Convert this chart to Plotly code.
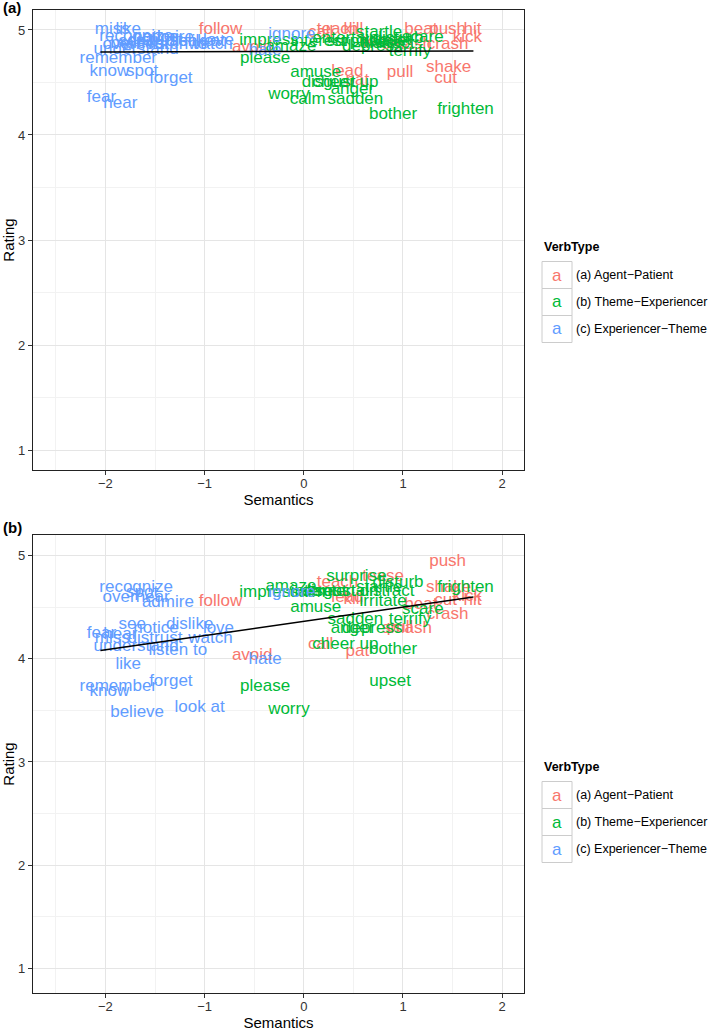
import plotly.graph_objects as go

verb_types = ["(a) Agent\u2212Patient", "(b) Theme\u2212Experiencer", "(c) Experiencer\u2212Theme"]
type_colors = ["#F8766D", "#00BA38", "#619CFF"]

# Agent-Patient verbs
ap_words = ["follow", "avoid", "teach", "kill", "beat", "push", "hit", "kick", "crash",
            "smash", "call", "pat", "tease", "lead", "pull", "shake", "cut"]
ap_sem = [-0.84, -0.52, 0.34, 0.50, 1.18, 1.45, 1.70, 1.65, 1.45,
          1.04, 0.17, 0.54, 0.80, 0.44, 0.97, 1.46, 1.43]
ap_rating_a = [5.00, 4.83, 5.00, 5.00, 5.00, 5.00, 5.00, 4.93, 4.86,
               4.86, 4.97, 4.52, 4.88, 4.60, 4.59, 4.64, 4.54]
ap_rating_b = [4.55, 4.03, 4.74, 4.57, 4.52, 4.94, 4.56, 4.60, 4.43,
               4.29, 4.14, 4.07, 4.80, 4.59, 4.30, 4.69, 4.56]

# Theme-Experiencer verbs
te_words = ["impress", "amaze", "please", "interest", "surprise", "startle", "disturb", "scare",
            "entertain", "distract", "irritate", "depress", "upset", "terrify", "amuse", "worry",
            "calm", "disgust", "cheer up", "anger", "sadden", "bother", "frighten"]
te_sem = [-0.35, -0.13, -0.39, 0.15, 0.53, 0.76, 0.95, 1.20,
          0.42, 0.84, 0.80, 0.69, 0.87, 1.07, 0.12, -0.15,
          0.04, 0.25, 0.42, 0.49, 0.52, 0.90, 1.63]
te_rating_a = [4.90, 4.84, 4.73, 4.89, 4.89, 4.97, 4.92, 4.93,
               4.92, 4.87, 4.89, 4.84, 4.90, 4.79, 4.59, 4.38,
               4.34, 4.50, 4.50, 4.43, 4.34, 4.19, 4.24]
te_rating_b = [4.64, 4.70, 3.73, 4.65, 4.80, 4.69, 4.74, 4.48,
               4.65, 4.65, 4.55, 4.29, 3.78, 4.38, 4.49, 3.51,
               4.64, 4.65, 4.14, 4.29, 4.38, 4.09, 4.69]

# Experiencer-Theme verbs
et_words = ["recognize", "overhear", "spot", "admire", "see", "notice", "dislike", "love",
            "fear", "hear", "distrust", "watch", "understand", "listen to", "like", "hate",
            "forget", "remember", "know", "believe", "look at", "ignore", "miss"]
et_sem = [-1.69, -1.69, -1.63, -1.37, -1.73, -1.49, -1.15, -0.86,
          -2.04, -1.85, -1.50, -0.94, -1.69, -1.27, -1.77, -0.39,
          -1.34, -1.87, -1.96, -1.68, -1.05, -0.12, -1.93]
et_rating_a = [4.94, 4.86, 4.60, 4.93, 4.89, 4.93, 4.89, 4.90,
               4.35, 4.30, 4.90, 4.86, 4.81, 4.86, 5.00, 4.80,
               4.54, 4.73, 4.60, 4.87, 4.89, 4.95, 5.00]
et_rating_b = [4.69, 4.59, 4.64, 4.54, 4.33, 4.29, 4.33, 4.29,
               4.24, 4.23, 4.19, 4.19, 4.12, 4.08, 3.94, 3.99,
               3.78, 3.73, 3.68, 3.48, 3.53, 4.64, 4.19]

# fitted lines
fit_sem = [-2.05, 1.71]
fit_rating_a = [4.79, 4.80]
fit_rating_b = [4.08, 4.60]

W, H = 709, 1034
FONT = "Liberation Sans, Arial, sans-serif"

fig = go.Figure()

groups = [(ap_words, ap_sem, ap_rating_a, ap_rating_b),
          (te_words, te_sem, te_rating_a, te_rating_b),
          (et_words, et_sem, et_rating_a, et_rating_b)]

for panel, (xa, ya) in enumerate([("x", "y"), ("x2", "y2")]):
    for i, (words, sem, ra, rb) in enumerate(groups):
        fig.add_trace(go.Scatter(
            x=sem, y=ra if panel == 0 else rb, text=words, mode="text",
            textposition="middle center",
            textfont=dict(family=FONT, size=17, color=type_colors[i]),
            xaxis=xa, yaxis=ya, showlegend=False, hoverinfo="skip"))
    fig.add_trace(go.Scatter(
        x=fit_sem, y=fit_rating_a if panel == 0 else fit_rating_b, mode="lines",
        line=dict(color="black", width=1.5), xaxis=xa, yaxis=ya,
        showlegend=False, hoverinfo="skip"))


def px(x):
    return x / W


def py(y):
    return 1 - y / H


xax = dict(range=[-2.73, 2.22], tickvals=[-2, -1, 0, 1, 2], showgrid=True,
           gridcolor="#E5E5E5", gridwidth=1, zeroline=False, automargin=False,
           minor=dict(dtick=0.5, showgrid=True, gridcolor="#F2F2F2", gridwidth=1),
           showline=True, mirror=True, linecolor="#222", linewidth=1.2,
           ticks="outside", ticklen=4, tickcolor="#333", ticklabelstandoff=-3,
           tickfont=dict(family=FONT, size=13, color="#333"),
           title=dict(text="Semantics", font=dict(family=FONT, size=15, color="#000"), standoff=1))
yax = dict(tickvals=[1, 2, 3, 4, 5], showgrid=True, gridcolor="#E5E5E5", gridwidth=1,
           zeroline=False, automargin=False,
           minor=dict(dtick=0.5, showgrid=True, gridcolor="#F2F2F2", gridwidth=1),
           showline=True, mirror=True, linecolor="#222", linewidth=1.2,
           ticks="outside", ticklen=4, tickcolor="#333",
           tickfont=dict(family=FONT, size=13, color="#333"),
           title=dict(text="Rating", font=dict(family=FONT, size=15, color="#000"), standoff=6))

fig.update_layout(
    width=W, height=H, margin=dict(l=0, r=0, t=0, b=0),
    paper_bgcolor="white", plot_bgcolor="white", showlegend=False,
    xaxis=dict(xax, domain=[px(33), px(524)], anchor="y"),
    yaxis=dict(yax, range=[0.81, 5.19], domain=[py(470), py(10)], anchor="x"),
    xaxis2=dict(xax, domain=[px(33), px(524)], anchor="y2"),
    yaxis2=dict(yax, range=[0.76, 5.2], domain=[py(993), py(535)], anchor="x2"),
)

shapes = []
annotations = []
for label, ly in [("(a)", 8), ("(b)", 527)]:
    annotations.append(dict(x=px(1), y=py(ly), xref="paper", yref="paper", text="<b>" + label + "</b>",
                            showarrow=False, xanchor="left", yanchor="middle",
                            font=dict(family=FONT, size=15, color="#000")))

for top in [247, 767]:
    annotations.append(dict(x=px(542), y=py(top), xref="paper", yref="paper", text="<b>VerbType</b>",
                            showarrow=False, xanchor="left", yanchor="middle",
                            font=dict(family=FONT, size=12.5, color="#000")))
    for i, name in enumerate(verb_types):
        cy = top + 28 + i * 27
        shapes.append(dict(type="rect", xref="paper", yref="paper",
                           x0=px(542), x1=px(572), y0=py(cy - 13.5), y1=py(cy + 13.5),
                           line=dict(color="#CCCCCC", width=1), fillcolor="white"))
        annotations.append(dict(x=px(557), y=py(cy), xref="paper", yref="paper", text="a",
                                showarrow=False, xanchor="center", yanchor="middle",
                                font=dict(family=FONT, size=17, color=type_colors[i])))
        annotations.append(dict(x=px(574), y=py(cy), xref="paper", yref="paper", text=name,
                                showarrow=False, xanchor="left", yanchor="middle",
                                font=dict(family=FONT, size=12.5, color="#000")))

fig.update_layout(shapes=shapes, annotations=annotations)

# drop the default 8px body margin so the figure fills the window exactly
fig.write_html("out.html", config={"displayModeBar": False},
               post_script="document.body.style.margin='0';")
